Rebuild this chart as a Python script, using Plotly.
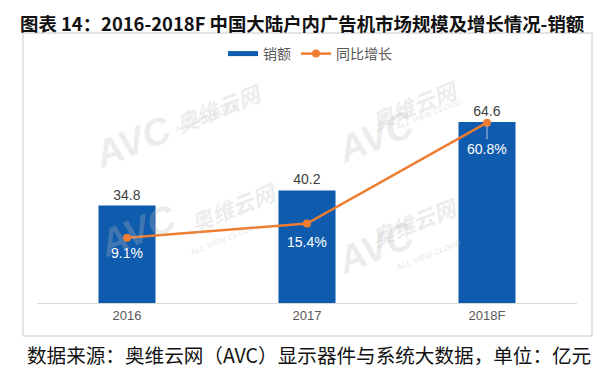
import plotly.graph_objects as go

categories = ["2016", "2017", "2018F"]
sales = [34.8, 40.2, 64.6]
growth = [9.1, 15.4, 60.8]
sales_name = "销额"
growth_name = "同比增长"
title_text = "图表 14：2016-2018F 中国大陆户内广告机市场规模及增长情况-销额"
source_text = "数据来源：奥维云网（AVC）显示器件与系统大数据，单位：亿元"

BLUE = "#0F5BAD"
ORANGE = "#ED7D31"
OFF = 8                      # default page body margin
W, H = 605 - OFF, 377 - OFF
L, R, T, B = 29, 28, 92, 74
pw, ph = W - L - R, H - T - B

def px_x(x):   # reference-page pixel -> paper
    return (x - OFF - L) / pw

def px_y(y):
    return (H - B - (y - OFF)) / ph

xpos = list(range(len(categories)))

fig = go.Figure()
fig.add_trace(go.Bar(
    x=xpos, y=sales, name=sales_name, showlegend=False,
    marker=dict(color=BLUE, line=dict(width=0)),
    width=0.317,
    text=[f"{v:.1f}" for v in sales], textposition="outside",
    textfont=dict(family="Liberation Sans, Arial", size=14, color="#404040"),
    cliponaxis=False,
))
# legend entry styled as a wide bar swatch
fig.add_trace(go.Scatter(
    x=[None], y=[None], name=sales_name, mode="lines",
    line=dict(color=BLUE, width=5),
))
fig.add_trace(go.Scatter(
    x=xpos, y=growth, name=growth_name, yaxis="y2",
    mode="lines+markers",
    line=dict(color=ORANGE, width=2.5),
    marker=dict(color=ORANGE, size=8),
))

label_dy = [15, 18, 26]
annotations = []
for xp, g, dy in zip(xpos, growth, label_dy):
    lead = dy > 20
    annotations.append(dict(
        x=xp, y=g, xref="x", yref="y2", text=f"{g:.1f}%",
        showarrow=lead, ax=0, ay=dy, arrowhead=0, arrowwidth=1,
        arrowcolor="rgba(200,210,225,0.9)", standoff=3,
        yshift=0 if lead else -dy,
        font=dict(family="Liberation Sans, Arial", size=14, color="white"),
    ))

wm_color = "rgba(190,190,190,0.28)"
wm = [(85, 105, "AVC", 38), (170, 78, "奥维云网", 22), (170, 98, "ALL VIEW CLOUD", 8),
      (90, 268, "AVC", 38), (185, 240, "奥维云网", 22), (185, 260, "ALL VIEW CLOUD", 8),
      (375, 100, "AVC", 38), (465, 75, "奥维云网", 22), (465, 95, "ALL VIEW CLOUD", 8),
      (375, 285, "AVC", 38), (465, 255, "奥维云网", 22), (465, 275, "ALL VIEW CLOUD", 8)]
for x, y, t, s in wm:
    annotations.append(dict(
        x=px_x(x), y=px_y(y), xref="paper", yref="paper", text=f"<b><i>{t}</i></b>",
        showarrow=False, textangle=-22,
        font=dict(family="Liberation Sans, Noto Sans CJK SC", size=s, color=wm_color),
    ))

annotations.append(dict(
    x=px_x(302), y=px_y(8), xref="paper", yref="paper", text=f"<b>{title_text}</b>",
    showarrow=False, xanchor="center", yanchor="top",
    font=dict(family="Noto Sans CJK SC", size=18.4, color="#111111"),
))
annotations.append(dict(
    x=px_x(309), y=px_y(354), xref="paper", yref="paper", text=source_text,
    showarrow=False, xanchor="center", yanchor="middle",
    font=dict(family="Noto Sans CJK SC", size=19.6, color="#111111"),
))

fig.update_layout(
    width=W, height=H,
    margin=dict(l=L, r=R, t=T, b=B),
    paper_bgcolor="white", plot_bgcolor="rgba(0,0,0,0)",
    showlegend=True,
    legend=dict(orientation="h", x=px_x(310), y=px_y(54), xanchor="center", yanchor="middle",
                font=dict(family="Noto Sans CJK SC", size=14, color="#595959"),
                bgcolor="rgba(0,0,0,0)", itemwidth=30),
    xaxis=dict(range=[-0.5, len(categories) - 0.5], tickvals=xpos, ticktext=categories,
               showgrid=False, zeroline=False, showline=True, linecolor="#D9D9D9", linewidth=1,
               ticks="", tickfont=dict(family="Liberation Sans, Arial", size=13, color="#595959")),
    yaxis=dict(range=[0, 72.5], visible=False, showgrid=False),
    yaxis2=dict(range=[-20.3, 71.0], overlaying="y", visible=False, showgrid=False),
    annotations=annotations,
    shapes=[dict(type="rect", xref="paper", yref="paper",
                 x0=px_x(23), x1=px_x(592), y0=px_y(336), y1=px_y(33),
                 line=dict(color="#C8C8C8", width=1), fillcolor="rgba(0,0,0,0)", layer="below")],
)

fig.write_html("out.html")
